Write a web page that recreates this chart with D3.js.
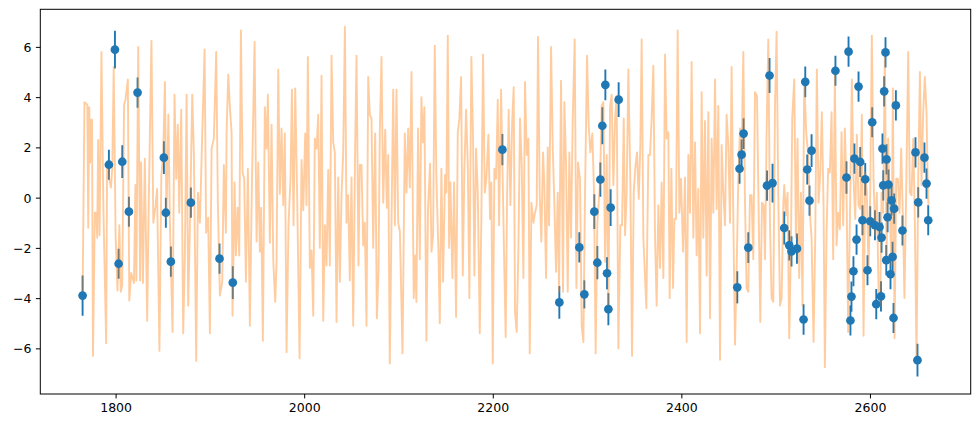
<!DOCTYPE html>
<html>
<head>
<meta charset="utf-8">
<script src="https://cdn.jsdelivr.net/npm/d3@7"></script>
<style>
  html, body { margin: 0; padding: 0; background: #ffffff; }
  svg { display: block; }
  text { font-family: "DejaVu Sans", sans-serif; }
</style>
</head>
<body>
<svg id="chart" width="980" height="428"></svg>
<script>
// ---- data ----
const xTicks = [1800, 2000, 2200, 2400, 2600];
const yTicks = [-6, -4, -2, 0, 2, 4, 6];

// blue measurements (x, y, error)
const blueX = [1765.0,1792.9,1799.3,1803.2,1807.1,1814.1,1823.3,1851.2,1853.3,1858.6,1879.8,1910.2,1924.3,
  2210.2,2270.6,2291.8,2297.1,2307.7,2310.9,2314.1,2316.2,2319.4,2321.2,2322.6,2325.0,2333.5,
  2459.3,2461.7,2463.9,2466.0,2471.0,2490.8,2493.5,2496.7,2509.1,2514.4,2516.8,2522.6,2529.6,2531.4,2533.5,2535.9,2538.1,
  2563.4,2575.1,2577.3,2579.3,2580.4,2582.5,2583.5,2585.8,2587.9,2589.7,2592.1,2595.0,2597.4,2600.3,2602.4,2605.3,2606.7,
  2610.2,2611.7,2612.3,2613.3,2614.1,2615.1,2616.5,2617.3,2617.6,2618.7,2619.7,2621.8,2622.9,2624.0,2625.0,2625.7,2627.5,
  2634.5,2648.3,2650.4,2651.2,2657.8,2660.0,2661.8];
const blueY = [-3.90,1.31,5.89,-2.63,1.43,-0.56,4.18,1.59,-0.60,-2.55,-0.20,-2.43,-3.38,
  1.91,-4.17,-1.98,-3.85,-0.56,-2.59,0.72,2.86,4.49,-3.01,-4.44,-0.40,3.90,
  -3.57,1.15,1.71,2.55,-1.99,0.48,4.86,0.58,-1.21,-1.90,-2.14,-2.03,-4.85,4.61,1.12,-0.12,1.87,
  5.05,0.80,5.81,-4.89,-3.94,-2.93,1.55,-1.67,4.42,1.42,-0.90,0.73,-2.89,-0.94,3.00,-1.10,-4.24,
  -1.17,-3.93,-1.59,1.95,0.49,4.23,5.78,-2.49,1.52,-0.78,0.52,-3.05,-0.11,-2.36,-4.79,-0.44,3.67,
  -1.31,1.80,-6.47,-0.19,1.59,0.56,-0.90];
const blueErr = [0.80,0.60,0.75,0.60,0.65,0.60,0.60,0.65,0.60,0.60,0.60,0.60,0.65,
  0.62,0.65,0.60,0.56,0.69,0.66,0.68,0.74,0.61,0.64,0.64,0.73,0.69,
  0.64,0.60,0.60,0.61,0.61,0.60,0.70,0.77,0.66,0.60,0.60,0.60,0.61,0.61,0.60,0.60,0.65,
  0.60,0.65,0.60,0.60,0.60,0.60,0.60,0.60,0.60,0.60,0.60,0.65,0.60,0.60,0.60,0.60,0.60,
  0.60,0.60,0.60,0.60,0.60,0.60,0.60,0.60,0.60,0.60,0.60,0.60,0.60,0.60,0.60,0.60,0.60,
  0.60,0.60,0.65,0.60,0.60,0.60,0.60];

// orange model line: [x, y]
const orangeLine = [
[1765,-4.0],[1767,3.8],[1770,3.7],[1771,-1.2],[1772,3.6],[1773,1.4],[1774,3.1],[1775,3.1],[1776,-6.3],[1778,-0.6],
[1779.5,-0.6],[1780.5,-1.6],[1781.5,2.3],[1783,-1.5],[1785,5.8],[1787,-0.3],[1790,-5.8],[1791,1.4],[1793,0.8],[1795,0.4],
[1796.5,1.15],[1798,5.2],[1800,-1.5],[1802,-3.7],[1804,-1.1],[1805.5,-3.75],[1807,-3.5],[1809,3.7],[1810.5,3.9],[1813,4.7],
[1814.5,-4.1],[1816.5,-3.0],[1819.5,-3.4],[1821,0.5],[1822,-3.3],[1824,6.0],[1826,-3.3],[1827,1.4],[1829,-3.4],[1831,1.55],
[1833.5,-4.9],[1835,-0.6],[1838,6.25],[1840,-1.0],[1842.5,-0.3],[1844,0.35],[1846.5,-6.1],[1848.5,0.9],[1850.5,1.7],[1852.3,4.6],
[1854,-0.8],[1856,3.3],[1857.6,-1.0],[1860.4,-5.35],[1862.5,4.1],[1864.3,0.75],[1866,2.9],[1867.5,-0.6],[1869.6,3.5],[1871.7,-5.4],
[1873.5,-2.2],[1875.3,4.1],[1877,-4.3],[1879,-0.8],[1881.3,4.1],[1883,1.8],[1885.5,-6.5],[1887.3,0.2],[1889.4,-1.0],[1891.9,2.55],
[1894.4,5.9],[1896,-1.4],[1898.2,-0.8],[1900,-5.4],[1901.8,1.95],[1904.2,2.35],[1906.7,5.8],[1908.5,-0.3],[1910.6,-3.9],[1913.1,-3.35],
[1914.8,1.3],[1917,-1.4],
[1917.7,2.6],[1919.5,4.9],[1921.2,3.6],[1923,2.6],[1924,-4.7],[1926.2,0.6],[1927.6,-2.3],[1929.4,-0.4],[1931.1,-2.3],[1932.9,6.65],
[1934.7,1.0],[1936.4,0.75],[1938.2,-3.35],[1940.3,1.15],[1942.4,-5.1],[1944.6,0.6],[1947.4,6.2],[1949.5,-1.75],[1951.3,1.4],[1953,-2.15],
[1954.4,-0.4],[1956.2,-5.7],[1958.3,3.6],[1960.1,1.95],[1961.5,4.1],[1963.6,-1.8],[1965.4,2.9],[1967.2,-2.5],[1969.3,-4.15],[1970.7,-2.55],
[1972.5,5.1],[1974.2,0.15],[1976,2.75],[1977.8,-0.3],[1979.5,2.55],[1981.3,-6.15],[1983.4,-1.05],[1985.5,0.75],[1987,4.3],[1988.7,-1.1],
[1990.5,4.35],[1992.6,-0.05],[1995.1,-6.4],[1997.2,1.5],[1999,-0.5],[2001.1,2.55],[2002.5,-0.3],[2003.9,5.6],[2006,-2.8],[2007.8,-2.1],
[2009.6,-4.7],[2011.3,2.35],[2013.1,1.95],[2014.9,3.3],[2016.6,-2.0],[2018.4,4.85],[2020.2,-4.9],[2022,-1.1],[2023.7,-2.7],[2025.5,1.1],
[2027.2,-2.7],[2029,5.65],[2030.8,2.2],[2032.5,1.8],[2034.3,-4.95],[2036.1,0.8],[2037.8,-3.35],[2039.6,0.1],[2041.4,1.8],[2043.2,6.8],
[2044.9,-1.0],[2046.7,0.1],[2048.4,-3.3],[2050.2,0.8],[2052,-5.1],[2054.1,2.1],[2055.5,5.65],[2057.6,-2.7],[2059,1.3],[2060.8,1.3],
[2062.6,-1.9],[2064.3,-1.0],[2066.1,-5.1],[2067.9,4.8],[2069.6,3.3],[2071.4,3.15],[2073.2,-2.0],[2075.3,2.55],[2077.1,-4.8],[2078.8,-2.95],
[2080.2,2.6],[2082,5.6],[2083.8,-0.2],[2085.9,2.7],[2087.7,-0.4],[2089.1,1.7],[2090.8,-6.6],[2093,0.2],[2094.4,4.3],[2096.2,-1.1],
[2097.9,4.3],[2099.7,-1.0],[2101.5,-1.35],[2104.3,-6.2],[2106.7,2.55],[2108.5,0.2],[2110.3,2.75],[2112,0.4],[2113.8,5.0],
[2116.2,-4.0],[2117.6,-2.3],[2119,-4.15],[2120.8,2.75],[2122.6,-2.45],[2124.3,4.0],[2126.1,2.2],[2127.5,3.6],[2129.6,-5.7],[2131.4,-0.4],
[2133.5,1.35],[2135,-2.15],[2136.7,-1.5],[2138.5,6.05],[2140.2,0.75],[2142.4,-2.15],[2143.8,-5.0],[2145.5,1.15],[2147.3,-3.35],[2149.4,0.9],
[2150.8,0.2],[2152.3,6.45],[2153.7,-2.0],[2155.1,0.6],[2157.2,-3.2],[2159,0.6],[2161.1,-4.75],[2162.9,2.6],[2164.6,3.15],[2166.4,4.8],
[2168.2,-3.1],[2169.9,1.15],[2171.7,3.5],[2173.5,1.3],[2175.2,-4.0],[2177.3,5.6],[2179.1,2.35],[2180.5,-3.1],[2182.3,1.95],[2184.1,0.2],
[2186.2,-5.4],[2187.9,-0.85],[2189.7,5.7],[2191.5,0.2],[2193.2,0.75],[2195.4,2.5],[2197.1,-0.85],[2198.5,0.6],[2200,-6.6],[2201.7,1.15],
[2203.5,0.75],[2205.3,3.9],[2206.7,-1.1],[2208.8,4.3],[2210.2,1.4],[2212,-2.3],[2213.7,-5.55],[2215.2,0.1],[2216.9,3.5],[2218.7,-0.3],
[2220.5,2.95],[2222.2,4.4],[2223.6,-4.55],[2225.4,-5.35],[2227.2,-2.0],[2228.9,3.15],[2230.7,1.3],[2232.5,-3.2],[2234.2,4.6],[2236,1.7],
[2237.8,2.35],[2239.2,-6.2],[2241,-0.2],[2243.1,-1.0],[2244.8,-0.6],[2246.6,-0.3],[2248,6.4],[2249.8,0.1],[2251.5,-1.75],[2253.3,1.8],
[2254.7,0.5],[2256.5,-3.2],[2258.3,2.0],[2259.7,-1.1],[2261.8,6.0],[2263.6,2.0],[2265.3,-0.2],[2267.1,-2.95],[2268.9,0.2],[2270.3,-3.75],
[2272.4,4.65],[2274.5,-3.75],[2275.9,3.8],[2277.7,1.4],[2279.5,-3.75],[2281.2,1.8],[2283,-1.6],[2284.8,3.15],[2286.9,6.3],[2288.7,-3.6],
[2290.4,1.4],[2292.5,0.75],[2294.3,-5.1],[2296.1,-5.75],[2297.8,0.1],[2300,5.65],[2301.7,2.9],[2303.5,1.8],[2305.6,2.55],[2307.4,0.2],
[2309.1,-6.2],[2310.9,-1.0],
[2313.8,0.6],[2315.5,3.65],[2317.3,3.8],[2319.1,-2.55],[2320.8,1.7],[2322.6,-4.55],[2324.4,3.65],[2326.1,4.1],[2327.9,0.5],[2329.7,3.15],
[2331.4,4.05],[2333.2,-6.0],[2335.3,-1.1],[2337.1,-1.1],[2338.9,3.15],[2340.3,-1.5],[2342,0.2],[2343.8,5.1],[2345.9,0.6],[2347.7,-6.3],
[2349.5,0.2],[2351.2,1.2],[2353,1.8],[2354.8,-0.05],[2356.5,2.1],[2357.9,6.3],[2359.7,-1.6],[2361.5,-3.2],[2362.9,-4.4],[2365,1.7],
[2366.8,1.7],[2368.5,3.15],[2370.3,5.25],[2372.1,-1.6],[2373.8,-4.3],[2375.6,-0.3],[2377.4,-2.8],[2379.1,0.6],[2380.9,-3.2],[2382.7,5.7],
[2384.4,2.35],[2386.2,2.6],[2387.6,-4.0],[2389.4,1.15],[2391.2,-3.6],[2392.6,-0.85],[2394.3,-0.85],[2396.1,6.65],[2397.9,-0.6],[2399.6,0.75],
[2401.8,-2.15],[2403.9,0.8],[2405.6,-5.75],[2407.4,1.7],[2409.2,-0.6],[2410.9,5.4],[2412.7,-1.6],[2414.5,2.2],[2416.2,-2.3],[2418,0.35],
[2419.8,-5.4],[2421.5,4.2],[2423.3,-1.6],[2425.1,3.05],[2426.8,-3.1],[2428.6,3.4],[2430.4,-4.8],[2432.1,2.35],[2433.9,-0.6],[2435.7,4.7],
[2437.4,-0.45],[2439.2,3.65],[2441,-6.45],[2442.7,2.1],[2444.5,0.2],[2446.3,-1.1],[2448,3.3],[2449.8,2.1],[2451.6,-1.0],[2453.3,5.2],
[2455.1,-0.85],[2456.9,-5.85],[2458.6,-2.95],[2460.4,0.75],[2462.2,2.75],[2463.9,1.7],[2465.7,5.8],[2467.5,-0.2],[2469.2,-3.6],[2471,-3.75],
[2472.8,0.1],[2474.5,0.1],[2476.3,-2.45],[2478.1,4.2],[2480.2,4.05],[2482,-0.6],[2483.7,-4.95],[2485.5,-0.2],[2487.3,-0.3],[2488.7,-2.45],
[2490.4,2.6],[2492.2,6.3],[2494,-1.1],[2495.7,-4.0],[2497.5,-4.15],[2499.3,3.65],[2501,6.6],[2502.8,0.1],[2504.6,-4.3],[2506.3,-4.0],
[2508.1,-0.3],
[2509.1,0.5],[2510.9,-0.7],[2512.6,0.2],[2514.4,-5.6],[2516.2,-1.9],[2517.6,3.15],[2519.7,4.7],[2521.5,-1.6],[2523.2,2.35],[2525,-3.2],
[2526.8,0.2],[2528.5,-4.3],[2530.3,4.7],[2532.4,2.6],[2534.5,1.7],[2536.7,-0.85],[2538.1,-1.6],[2540.2,-5.75],[2542,-1.5],[2543.7,5.1],
[2545.5,-0.2],[2547.3,1.0],[2549,3.4],[2550.8,-0.3],[2552.2,-6.75],[2554,-1.35],[2555.7,1.15],[2557.5,1.0],[2559.3,3.4],[2561,-2.45],
[2562.8,4.85],[2564.6,-1.9],[2566.3,-0.6],[2568.1,-1.25],[2569.9,2.6],[2571.6,-1.1],[2573.4,2.75],[2575.2,0.2],[2576.9,-5.35],[2579.1,-0.05],
[2580.8,4.7],[2582.6,0.75],[2584.4,-0.85],[2586.1,2.5],[2587.9,-0.3],[2589.7,-0.45],[2591.4,3.3],[2593.2,-5.5],[2595,1.0],[2596.7,0.2],
[2598.5,-2.95],[2600.3,0.2],[2602,6.45],[2603.8,0.75],[2605.6,-1.5],[2607.3,0.2],[2609.1,-3.6],[2610.9,-4.3],[2612.3,0.2],[2614,-0.6],
[2615.8,5.8],[2617.6,-2.45],[2619.3,2.35],[2621.1,-0.6],[2622.9,-2.7],[2624.3,4.35],[2626.1,-5.6],[2627.8,0.75],[2629.6,0.75],[2631.4,-0.6],
[2633.1,1.95],[2634.9,-0.7],[2636.6,-4.0],[2638.4,0.2],[2640.6,5.8],[2642.3,0.2],[2644.1,0.1],[2645.9,2.35],[2647.6,-0.85],[2649.4,-6.4],
[2651.2,0.75],[2653,5.0],[2654.7,0.5],[2656.5,3.4],[2658.2,4.8],[2660,3.4],[2661.1,1.0],[2662,-0.3]
];

// ---- layout ----
const W = 980, H = 428;
const plot = { left: 40.3, right: 970.7, top: 9.3, bottom: 394 };
const BLUE = "#1f77b4", ORANGE = "#ff7f0e";

const blue = blueX.map((x, i) => ({ x, y: blueY[i], e: blueErr[i] }));

// matplotlib-like 5% margins around data extent
const allX = blueX.concat(orangeLine.map(d => d[0]));
const allYlo = blue.map(d => d.y - d.e).concat(orangeLine.map(d => d[1]));
const allYhi = blue.map(d => d.y + d.e).concat(orangeLine.map(d => d[1]));
const [xmin, xmax] = d3.extent(allX);
const ymin = d3.min(allYlo), ymax = d3.max(allYhi);
const xpad = (xmax - xmin) * 0.05, ypad = (ymax - ymin) * 0.05;

const x = d3.scaleLinear().domain([xmin - xpad, xmax + xpad]).range([plot.left, plot.right]);
const y = d3.scaleLinear().domain([ymin - ypad, ymax + ypad]).range([plot.bottom, plot.top]);

const svg = d3.select("#chart");
svg.append("rect").attr("width", W).attr("height", H).attr("fill", "#fff");

svg.append("clipPath").attr("id", "clip").append("rect")
  .attr("x", plot.left).attr("y", plot.top)
  .attr("width", plot.right - plot.left).attr("height", plot.bottom - plot.top);

const g = svg.append("g").attr("clip-path", "url(#clip)");

// error bars (beneath orange line)
g.append("g").selectAll("line").data(blue).join("line")
  .attr("x1", d => x(d.x)).attr("x2", d => x(d.x))
  .attr("y1", d => y(d.y - d.e)).attr("y2", d => y(d.y + d.e))
  .attr("stroke", BLUE).attr("stroke-width", 1.9);

// orange line
g.append("path").datum(orangeLine)
  .attr("d", d3.line().x(d => x(d[0])).y(d => y(d[1])))
  .attr("fill", "none").attr("stroke", ORANGE).attr("stroke-opacity", 0.4)
  .attr("stroke-width", 1.9).attr("stroke-linejoin", "round");

// markers
g.append("g").selectAll("circle").data(blue).join("circle")
  .attr("cx", d => x(d.x)).attr("cy", d => y(d.y)).attr("r", 4.35)
  .attr("fill", BLUE);

// axes
const fmt = d3.format("d");
const xAxis = d3.axisBottom(x).tickValues(xTicks).tickFormat(fmt).tickSize(4.4).tickPadding(4.4).tickSizeOuter(0);
const yAxis = d3.axisLeft(y).tickValues(yTicks).tickFormat(d3.format("d")).tickSize(4.4).tickPadding(4.4).tickSizeOuter(0);

const gx = svg.append("g").attr("transform", `translate(0,${plot.bottom})`).call(xAxis);
const gy = svg.append("g").attr("transform", `translate(${plot.left},0)`).call(yAxis);
[gx, gy].forEach(a => {
  a.select(".domain").remove();
  a.selectAll(".tick line").attr("stroke", "#000").attr("stroke-width", 1);
  a.selectAll(".tick text").attr("fill", "#000").attr("font-size", "12.5px")
    .attr("font-family", "'DejaVu Sans', sans-serif");
});
gx.selectAll(".tick text").attr("dy", "0.76em");
gy.selectAll(".tick text").attr("dy", "0.36em");

// frame
svg.append("rect").attr("x", plot.left).attr("y", plot.top)
  .attr("width", plot.right - plot.left).attr("height", plot.bottom - plot.top)
  .attr("fill", "none").attr("stroke", "#000").attr("stroke-width", 1);
</script>
</body>
</html>
